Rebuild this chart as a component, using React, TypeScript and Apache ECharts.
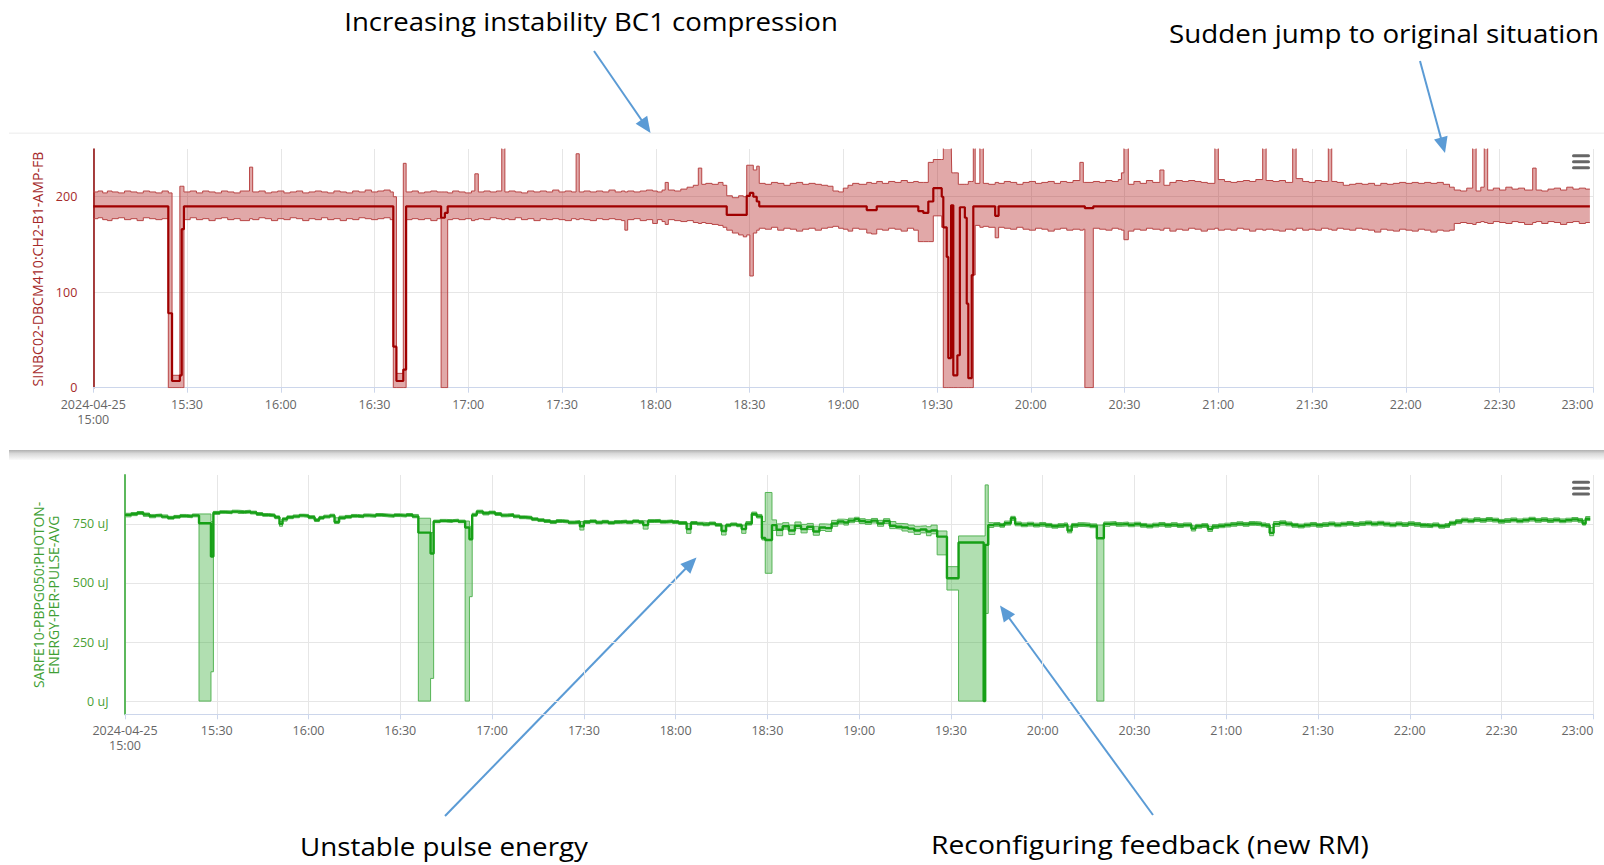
import React, { useEffect, useRef } from 'react';
import * as echarts from 'echarts';

// ---------------- DATA (minutes after 2024-04-25 15:00) ----------------
const startDate = '2024-04-25';
const startHour = 15;

// Top chart: SINBC02-DBCM410:CH2-B1-AMP-FB (min / avg / max per step)
const redTime = [
  0, 1.5, 3, 4.5, 6, 8, 10, 12, 14, 16,
  18, 20, 22, 24, 25.2, 27.7, 28.3, 29, 31, 33,
  35, 37, 39, 41, 43, 45, 47, 50, 51, 53,
  55, 57, 59, 61, 63, 65, 67, 69, 71, 73,
  75, 77, 79, 81, 83, 85, 87, 89, 91, 93,
  95, 96, 97, 99.2, 100.1, 102, 104, 106, 108, 110,
  111.3, 112.5, 113.4, 115, 117, 119, 121, 122.1, 123.2, 125,
  127, 129, 130.7, 131.7, 133, 135, 137, 139, 141, 143,
  145, 147, 149, 151, 153, 154.5, 155.5, 157, 159, 161,
  163, 165, 167, 169, 170.1, 171, 173, 175, 177, 179,
  180.5, 182, 183, 184, 186, 188, 190, 192, 193.6, 194.7,
  196, 198, 200, 201.5, 202.7, 204.5, 206.5, 208, 209.1, 210.1,
  211.2, 212.3, 213.1, 215, 217, 219, 221, 223, 225, 227,
  229, 231, 233, 235, 236.7, 238.5, 240, 241.5, 243, 245,
  247.5, 249, 250.7, 252.5, 254.5, 256.5, 258.5, 260.5, 262.5, 264,
  265.6, 267.2, 268.8, 271.5, 272, 273.1, 273.6, 274.5, 274.7, 275.2,
  276.5, 276.8, 277.3, 278.9, 279.5, 280, 281.1, 281.6, 282.2, 283.7,
  284.8, 286.5, 288.6, 289.7, 291.5, 293.5, 295.5, 297.5, 299.5, 301.5,
  303.5, 305.5, 307.5, 309.5, 311.5, 313.5, 315.7, 316.8, 317.3, 320,
  322, 324, 326, 328, 329, 329.8, 331.2, 333, 335, 337,
  339, 341.3, 342.6, 344.5, 346.5, 348.5, 350.5, 352.5, 354.5, 356.5,
  358.9, 360, 362, 364, 366, 368, 370, 372, 374.2, 375.3,
  377.5, 379.5, 381.5, 383.8, 384.9, 387, 389, 391, 393, 395.2,
  396.3, 398, 400, 402, 404, 406, 408, 410, 412, 414,
  416, 418, 420, 422, 424, 426, 428, 430, 432, 434,
  435.5, 437.5, 439.5, 441.4, 442.5, 444, 445.1, 446.2, 448, 450,
  452, 454, 456, 458, 460.6, 461.7, 463.5, 465.5, 467.5, 469.5,
  471.5, 473.5, 475.5, 477.5, 478.9,
];
const redLow = [
  177, 178, 176, 175, 177, 178, 176, 177, 175, 178,
  177, 176, 177, 0, 0, 0, 0, 176, 178, 176,
  177, 175, 177, 178, 176, 177, 175, 177, 176, 178,
  177, 175, 177, 176, 178, 177, 175, 177, 176, 178,
  176, 177, 175, 177, 176, 178, 177, 176, 177, 178,
  176, 0, 0, 0, 176, 177, 176, 177, 175, 177,
  0, 0, 176, 177, 176, 177, 175, 176, 177, 176,
  178, 177, 176, 177, 176, 178, 176, 177, 175, 177,
  176, 177, 176, 175, 177, 176, 177, 176, 175, 177,
  176, 177, 176, 175, 165, 176, 177, 175, 176, 172,
  176, 174, 171, 176, 175, 174, 175, 173, 172, 173,
  172, 171, 170, 168, 165, 162, 160, 158, 160, 117,
  162, 165, 167, 166, 168, 165, 167, 166, 164, 166,
  167, 165, 167, 168, 169, 167, 166, 164, 167, 166,
  162, 161, 166, 165, 167, 166, 164, 167, 165, 153,
  153, 153, 180, 168, 0, 0, 0, 0, 0, 0,
  0, 0, 0, 0, 0, 0, 0, 118, 170, 168,
  169, 168, 157, 168, 167, 166, 168, 166, 165, 167,
  166, 164, 166, 167, 165, 166, 165, 166, 0, 167,
  166, 165, 167, 166, 165, 155, 164, 166, 165, 167,
  166, 165, 167, 164, 166, 165, 167, 166, 164, 166,
  167, 165, 166, 165, 167, 166, 164, 166, 165, 166,
  165, 164, 166, 165, 167, 165, 166, 165, 167, 166,
  165, 167, 166, 165, 167, 166, 165, 163, 166, 165,
  164, 166, 165, 164, 166, 165, 163, 165, 164, 165,
  172, 173, 172, 171, 173, 174, 173, 172, 174, 173,
  172, 174, 173, 171, 173, 174, 172, 174, 173, 171,
  173, 174, 172, 173, 173,
];
const redMean = [
  190, 190, 190, 190, 190, 190, 190, 190, 190, 190,
  190, 190, 190, 78, 7, 13, 166, 190, 190, 190,
  190, 190, 190, 190, 190, 190, 190, 190, 190, 190,
  190, 190, 190, 190, 190, 190, 190, 190, 190, 190,
  190, 190, 190, 190, 190, 190, 190, 190, 190, 190,
  190, 43, 7, 19, 190, 190, 190, 190, 190, 190,
  178, 183, 190, 190, 190, 190, 190, 190, 190, 190,
  190, 190, 190, 190, 190, 190, 190, 190, 190, 190,
  190, 190, 190, 190, 190, 190, 190, 190, 190, 190,
  190, 190, 190, 190, 190, 190, 190, 190, 190, 190,
  190, 190, 190, 190, 190, 190, 190, 190, 190, 190,
  190, 190, 190, 190, 181, 181, 181, 181, 201, 204,
  200, 195, 190, 190, 190, 190, 190, 190, 190, 190,
  190, 190, 190, 190, 190, 190, 190, 190, 190, 190,
  186, 186, 190, 190, 190, 190, 190, 190, 190, 185,
  183, 195, 209, 200, 168, 137, 31, 191, 191, 13,
  34, 34, 189, 178, 88, 10, 118, 190, 190, 190,
  190, 190, 180, 190, 190, 190, 190, 190, 190, 190,
  190, 190, 190, 190, 190, 190, 190, 190, 188, 190,
  190, 190, 190, 190, 190, 190, 190, 190, 190, 190,
  190, 190, 190, 190, 190, 190, 190, 190, 190, 190,
  190, 190, 190, 190, 190, 190, 190, 190, 190, 190,
  190, 190, 190, 190, 190, 190, 190, 190, 190, 190,
  190, 190, 190, 190, 190, 190, 190, 190, 190, 190,
  190, 190, 190, 190, 190, 190, 190, 190, 190, 190,
  190, 190, 190, 190, 190, 190, 190, 190, 190, 190,
  190, 190, 190, 190, 190, 190, 190, 190, 190, 190,
  190, 190, 190, 190, 190,
];
const redHigh = [
  205, 206, 204, 206, 205, 204, 206, 205, 204, 206,
  205, 204, 206, 204, 13, 211, 211, 205, 206, 204,
  206, 205, 204, 206, 205, 204, 206, 231, 205, 206,
  204, 205, 206, 204, 205, 206, 204, 205, 206, 205,
  204, 206, 205, 204, 206, 205, 207, 205, 206, 207,
  205, 200, 15, 235, 205, 206, 204, 205, 206, 205,
  205, 205, 204, 206, 205, 204, 206, 224, 205, 206,
  205, 206, 260, 205, 206, 205, 204, 206, 205, 206,
  205, 207, 205, 206, 205, 245, 205, 206, 205, 206,
  205, 207, 205, 206, 205, 206, 205, 206, 207, 206,
  205, 207, 215, 207, 206, 208, 210, 212, 230, 213,
  214, 213, 215, 212, 201, 199, 201, 200, 233, 233,
  228, 232, 214, 213, 215, 214, 212, 214, 215, 213,
  214, 213, 212, 211, 206, 205, 209, 212, 214, 213,
  215, 214, 216, 214, 216, 215, 217, 215, 216, 215,
  215, 236, 239, 239, 260, 260, 260, 260, 225, 225,
  225, 213, 213, 213, 213, 216, 216, 260, 214, 260,
  214, 213, 215, 214, 216, 215, 213, 215, 216, 214,
  215, 216, 214, 216, 215, 217, 236, 215, 215, 216,
  215, 217, 216, 218, 225, 260, 213, 216, 214, 217,
  215, 228, 212, 215, 217, 216, 217, 216, 215, 214,
  260, 218, 216, 215, 216, 217, 216, 218, 260, 217,
  216, 217, 215, 260, 219, 216, 215, 217, 216, 260,
  216, 215, 212, 213, 214, 213, 214, 212, 214, 213,
  214, 215, 214, 215, 214, 215, 214, 215, 213, 210,
  207, 206, 209, 260, 206, 210, 260, 207, 209, 207,
  210, 208, 209, 207, 230, 207, 206, 208, 209, 207,
  210, 208, 209, 208, 208,
];

// Bottom chart: SARFE10-PBPG050:PHOTON-ENERGY-PER-PULSE-AVG in uJ
const greenTime = [
  0, 2, 4, 6, 8, 10, 12, 14, 16, 18,
  20, 22, 24.2, 28.1, 28.9, 31, 33, 35, 37, 39,
  41, 43, 45, 47, 49, 50.5, 51.5, 53, 55, 57,
  58.5, 60, 62, 63.5, 65, 67, 68.5, 70, 72, 74,
  76, 78, 80, 82, 84, 86, 88, 90, 92, 94,
  95.9, 99.9, 100.9, 103, 105, 107, 109, 111.2, 112.6, 113.5,
  115, 117, 119, 121, 123, 125, 127, 129, 131, 133,
  135, 137, 139, 141, 143, 145, 147, 148.7, 150, 152,
  154, 156, 158, 160, 162, 164, 166, 168, 169.4, 171,
  173, 175, 177, 179, 181, 183.6, 185, 187, 189, 191,
  193, 195, 196.5, 198, 200, 201.6, 203, 204.9, 206.5, 208.2,
  209.3, 211.5, 213, 215, 217, 219, 221, 223, 225, 227,
  229, 231, 233, 235, 236.5, 238.5, 240, 242, 244, 246,
  248, 250, 252, 254, 256, 258, 260, 262, 263.5, 265.5,
  268.7, 272.5, 280.7, 281.2, 282.2, 284, 286, 287.5, 289.6, 291, 293,
  295, 297, 299, 301, 303, 305, 307, 308.1, 309.5, 311.5,
  313.5, 315.5, 317.7, 320, 322, 324, 326, 328, 330, 332,
  334, 336, 338, 340, 342, 344, 346, 348.6, 350, 352,
  354, 355.5, 357.5, 359.5, 361.5, 363.5, 365.5, 367.5, 369.5, 371.5,
  373, 374.2, 375.5, 377.5, 379.5, 381.5, 383.5, 385.5, 387.5, 389.5,
  391.5, 393.5, 395.5, 397.5, 399.5, 401.5, 403.5, 405.5, 407.5, 409.5,
  411.5, 413.5, 415.5, 417.5, 419.5, 421.5, 423.5, 425.5, 427.5, 429.5,
  431.5, 433, 435, 437, 439, 441, 443, 445, 447, 449,
  451, 453, 455, 457, 459, 461, 463, 465, 467, 469,
  471, 473, 475, 476.5, 477.5, 479,
];
const greenLow = [
  780, 785, 790, 782, 776, 780, 775, 770, 774, 778,
  776, 780, 0, 124, 790, 795, 793, 797, 794, 796,
  792, 786, 782, 780, 772, 740, 762, 772, 776, 780,
  778, 772, 760, 770, 775, 779, 752, 770, 774, 778,
  776, 780, 778, 782, 780, 778, 781, 779, 782, 776,
  0, 96, 755, 758, 756, 759, 755, 0, 442, 782,
  795, 788, 792, 786, 780, 782, 776, 772, 770, 764,
  760, 756, 752, 756, 754, 750, 752, 724, 752, 755,
  750, 753, 749, 752, 754, 751, 755, 752, 728, 756,
  757, 753, 755, 752, 748, 710, 748, 745, 742, 746,
  740, 703, 738, 742, 738, 710, 745, 786, 775, 682,
  541, 722, 700, 728, 705, 730, 712, 726, 702, 722,
  718, 740, 750, 745, 755, 760, 752, 748, 754, 740,
  752, 730, 728, 720, 715, 705, 712, 700, 708, 619,
  470, 0, 0, 371, 735, 740, 736, 745, 765, 742, 738,
  741, 737, 740, 736, 732, 735, 738, 712, 736, 739,
  737, 734, 0, 740, 744, 740, 742, 738, 741, 736,
  733, 737, 740, 736, 739, 735, 738, 720, 732, 735,
  718, 731, 734, 737, 740, 743, 740, 744, 742, 738,
  735, 700, 740, 745, 742, 736, 733, 737, 740, 736,
  739, 742, 738, 741, 744, 740, 743, 746, 742, 745,
  741, 738, 742, 739, 743, 740, 736, 734, 738, 732,
  735, 745, 752, 758, 755, 760, 757, 761, 758, 753,
  756, 759, 755, 758, 762, 757, 760, 756, 759, 755,
  758, 761, 757, 745, 764, 765,
];
const greenMean = [
  788, 792, 797, 790, 783, 786, 781, 776, 780, 784,
  782, 786, 753, 612, 797, 800, 799, 802, 800, 802,
  798, 792, 788, 786, 778, 750, 770, 778, 782, 786,
  784, 778, 766, 776, 781, 785, 758, 776, 780, 784,
  782, 786, 784, 788, 786, 784, 787, 785, 788, 782,
  713, 625, 760, 763, 762, 764, 760, 735, 685, 788,
  802, 795, 798, 792, 786, 788, 782, 778, 776, 770,
  766, 762, 758, 762, 760, 756, 758, 740, 758, 761,
  756, 759, 755, 758, 760, 757, 761, 758, 745, 762,
  763, 759, 761, 758, 754, 728, 754, 751, 748, 752,
  746, 720, 744, 748, 744, 728, 752, 792, 782, 690,
  682, 745, 725, 740, 722, 742, 728, 738, 718, 735,
  732, 752, 760, 756, 764, 770, 762, 758, 764, 752,
  762, 742, 738, 735, 730, 722, 726, 718, 722, 696,
  520, 671, 0, 661, 745, 748, 744, 753, 774, 750, 746,
  749, 745, 748, 744, 740, 743, 746, 722, 744, 747,
  745, 742, 689, 750, 752, 748, 750, 746, 749, 744,
  741, 745, 748, 744, 747, 743, 746, 730, 740, 743,
  728, 739, 742, 745, 748, 751, 748, 752, 750, 746,
  743, 712, 750, 755, 750, 744, 741, 745, 748, 744,
  747, 750, 746, 749, 752, 748, 751, 754, 750, 753,
  749, 746, 750, 747, 751, 748, 744, 742, 746, 740,
  743, 753, 760, 766, 763, 768, 765, 769, 766, 761,
  764, 767, 763, 766, 770, 765, 768, 764, 767, 763,
  766, 769, 765, 752, 772, 773,
];
const greenHigh = [
  795, 798, 802, 796, 790, 792, 788, 782, 786, 790,
  788, 792, 792, 760, 803, 806, 805, 808, 806, 808,
  804, 798, 794, 792, 784, 760, 776, 784, 788, 791,
  790, 785, 772, 782, 787, 791, 776, 783, 786, 790,
  788, 792, 790, 794, 792, 790, 793, 791, 794, 790,
  774, 713, 766, 769, 768, 770, 766, 762, 740, 795,
  808, 801, 804, 798, 792, 794, 788, 784, 782, 776,
  772, 768, 764, 768, 766, 762, 764, 760, 764, 767,
  762, 765, 761, 764, 766, 763, 767, 764, 762, 768,
  769, 765, 767, 764, 760, 752, 760, 757, 755, 758,
  752, 742, 750, 754, 750, 745, 760, 800, 790, 760,
  883, 767, 750, 755, 745, 758, 748, 752, 740, 750,
  748, 765, 770, 768, 774, 778, 772, 768, 773, 765,
  772, 760, 752, 750, 745, 740, 742, 738, 745, 720,
  569, 699, 699, 915, 755, 756, 752, 762, 782, 758, 754,
  757, 753, 756, 752, 748, 751, 754, 740, 752, 755,
  753, 750, 745, 758, 760, 756, 758, 754, 757, 752,
  749, 753, 756, 752, 755, 751, 754, 742, 748, 751,
  740, 747, 750, 753, 756, 759, 756, 760, 758, 754,
  751, 735, 760, 763, 758, 752, 749, 753, 756, 752,
  755, 758, 754, 757, 760, 756, 759, 762, 758, 761,
  757, 754, 758, 755, 759, 756, 752, 750, 754, 748,
  751, 761, 768, 774, 771, 776, 773, 777, 774, 769,
  772, 775, 771, 774, 778, 773, 776, 772, 775, 771,
  774, 777, 773, 765, 781, 782,
];

// Axis ticks / labels
const xMinutesMax = 480;
const xTickStep = 30;
const redYTicks = [0, 100, 200];
const greenYTicks = [0, 250, 500, 750];
const greenUnit = 'uJ';
const redAxisTitle = 'SINBC02-DBCM410:CH2-B1-AMP-FB';
const greenAxisTitle = ['SARFE10-PBPG050:PHOTON-', 'ENERGY-PER-PULSE-AVG'];
const annotationTexts = [
  'Increasing instability BC1 compression',
  'Sudden jump to original situation',
  'Unstable pulse energy',
  'Reconfiguring feedback (new RM)',
];

// ---------------- LAYOUT / STYLE ----------------
const W = 1604;
const H = 865;
const AXIS_FONT = '"Open Sans", "Noto Sans", sans-serif';
const NOTE_FONT_FAMILY = '"Open Sans", "Noto Sans", sans-serif';

function measure(text: string, font: string): number {
  const ctx = document.createElement('canvas').getContext('2d');
  if (!ctx) return 0;
  ctx.font = font;
  return ctx.measureText(text).width;
}

function fitText(text: string, size: number, target: number): number {
  const w = measure(text, `${size}px "Open Sans"`);
  return w > 0 ? target / w : 1;
}

function timeLabel(v: number): string {
  const m = Math.round(v);
  const h = startHour + Math.floor(m / 60);
  const mm = m % 60;
  const s = `${h}:${String(mm).padStart(2, '0')}`;
  return m === 0 ? `${startDate}\n${s}` : s;
}

// Filled min..max band drawn as one stepped polygon through the axis scales.
function bandFill(idx: number, time: number[], low: number[], high: number[], fill: string) {
  return {
    type: 'custom',
    xAxisIndex: idx,
    yAxisIndex: idx,
    silent: true,
    z: 1,
    data: [[time[0], low[0]]],
    renderItem: (params: any, api: any) => {
      if (params.dataIndex !== 0) return null;
      const cs = params.coordSys;
      const top = cs.y;
      const bottom = cs.y + cs.height;
      const cy = (y: number) => Math.min(bottom, Math.max(top, y));
      const upper: number[][] = [];
      const lower: number[][] = [];
      for (let i = 0; i < time.length; i++) {
        const t0 = time[i];
        const t1 = i + 1 < time.length ? time[i + 1] : time[i];
        const a = api.coord([t0, high[i]]);
        const b = api.coord([t1, high[i]]);
        upper.push([a[0], cy(a[1])], [b[0], cy(b[1])]);
        const c = api.coord([t0, low[i]]);
        const d = api.coord([t1, low[i]]);
        lower.push([c[0], cy(c[1])], [d[0], cy(d[1])]);
      }
      const points = upper.concat(lower.reverse());
      return { type: 'polygon', shape: { points }, style: { fill }, silent: true };
    },
  };
}

function bandSeries(
  key: string,
  idx: number,
  time: number[],
  low: number[],
  mean: number[],
  high: number[],
  edge: string,
  fill: string,
  meanColor: string,
  meanWidth: number
) {
  const lowData = time.map((t, i) => [t, low[i]]);
  const highData = time.map((t, i) => [t, high[i]]);
  const meanData = time.map((t, i) => [t, mean[i]]);
  const common = {
    type: 'line',
    xAxisIndex: idx,
    yAxisIndex: idx,
    step: 'end',
    symbol: 'none',
    silent: true,
    animation: false,
  };
  return [
    bandFill(idx, time, low, high, fill),
    { ...common, name: key + ' min', data: lowData, lineStyle: { color: edge, width: 1 }, z: 2 },
    { ...common, name: key + ' max', data: highData, lineStyle: { color: edge, width: 1 }, z: 2 },
    { ...common, name: key + ' avg', data: meanData, lineStyle: { color: meanColor, width: meanWidth }, z: 3 },
  ];
}

function arrow(x1: number, y1: number, x2: number, y2: number, color: string) {
  const dx = x2 - x1;
  const dy = y2 - y1;
  const len = Math.sqrt(dx * dx + dy * dy);
  const ux = dx / len;
  const uy = dy / len;
  const headL = 16;
  const headW = 7;
  const bx = x2 - ux * headL;
  const by = y2 - uy * headL;
  const px = -uy;
  const py = ux;
  return [
    { type: 'line', shape: { x1, y1, x2: bx + ux * 2, y2: by + uy * 2 }, style: { stroke: color, lineWidth: 2 } },
    {
      type: 'polygon',
      shape: {
        points: [
          [x2, y2],
          [bx + px * headW, by + py * headW],
          [bx - px * headW, by - py * headW],
        ],
      },
      style: { fill: color },
    },
  ];
}

function hamburger(x: number, ys: number[]) {
  return ys.map((y) => ({
    type: 'rect',
    shape: { x, y: y - 1.5, width: 18, height: 3, r: 1.5 },
    style: { fill: '#666666' },
  }));
}

function xAxis(gridIndex: number, margin: number) {
  return {
    gridIndex,
    type: 'value',
    min: 0,
    max: xMinutesMax,
    interval: xTickStep,
    axisLine: { onZero: false, lineStyle: { color: '#ccd6eb', width: 1 } },
    axisTick: { show: true, length: 5, lineStyle: { color: '#ccd6eb' } },
    axisLabel: {
      formatter: timeLabel,
      color: '#666666',
      fontSize: 12.5,
      fontFamily: AXIS_FONT,
      lineHeight: 15,
      margin,
      alignMaxLabel: 'right',
      showMinLabel: true,
      showMaxLabel: true,
    },
    splitLine: { show: true, lineStyle: { color: '#e6e6e6', width: 1 } },
  };
}

export default function App() {
  const ref = useRef<HTMLDivElement>(null);

  useEffect(() => {
    if (!ref.current) return;
    const chart = echarts.init(ref.current, null, { renderer: 'svg' });

    const noteSize = 26;
    const notes = [
      { text: annotationTexts[0], cx: 591, cy: 20.5, w: 494 },
      { text: annotationTexts[1], cx: 1384, cy: 32.5, w: 430 },
      { text: annotationTexts[2], cx: 444, cy: 846, w: 288 },
      { text: annotationTexts[3], cx: 1150, cy: 844, w: 438 },
    ];
    const noteEls = notes.map((n) => ({
      type: 'text',
      x: n.cx,
      y: n.cy,
      scaleX: fitText(n.text, noteSize, n.w),
      style: {
        text: n.text,
        fill: '#000000',
        fontSize: noteSize,
        fontFamily: NOTE_FONT_FAMILY,
        align: 'center',
        verticalAlign: 'middle',
      },
      z: 10,
    }));

    const arrowColor = '#5b9bd5';
    const arrows = [
      ...arrow(594, 51, 650.5, 133, arrowColor),
      ...arrow(1420, 61, 1445, 153, arrowColor),
      ...arrow(445, 816, 696.5, 557.5, arrowColor),
      ...arrow(1153, 815, 1000, 605.5, arrowColor),
    ];

    const titleSize = 14;
    const titles = [
      {
        type: 'text',
        x: 37.5,
        y: 269,
        rotation: Math.PI / 2,
        scaleX: fitText(redAxisTitle, titleSize, 235),
        style: {
          text: redAxisTitle,
          fill: '#a52a2a',
          fontSize: titleSize,
          fontFamily: AXIS_FONT,
          align: 'center',
          verticalAlign: 'middle',
        },
      },
      {
        type: 'text',
        x: 38.5,
        y: 595,
        rotation: Math.PI / 2,
        scaleX: fitText(greenAxisTitle[0], titleSize, 186.5),
        style: {
          text: greenAxisTitle[0],
          fill: '#3f9f35',
          fontSize: titleSize,
          fontFamily: AXIS_FONT,
          align: 'center',
          verticalAlign: 'middle',
        },
      },
      {
        type: 'text',
        x: 53.5,
        y: 595,
        rotation: Math.PI / 2,
        scaleX: fitText(greenAxisTitle[1], titleSize, 159),
        style: {
          text: greenAxisTitle[1],
          fill: '#3f9f35',
          fontSize: titleSize,
          fontFamily: AXIS_FONT,
          align: 'center',
          verticalAlign: 'middle',
        },
      },
    ];

    const panels = [
      { type: 'rect', shape: { x: 9, y: 132.5, width: W - 9, height: 1.5 }, style: { fill: '#f2f2f2' }, z: -1 },
      {
        type: 'rect',
        shape: { x: 9, y: 450, width: W - 9, height: 10 },
        style: {
          fill: new echarts.graphic.LinearGradient(0, 0, 0, 1, [
            { offset: 0, color: '#b0b0b0' },
            { offset: 0.35, color: '#d8d8d8' },
            { offset: 1, color: '#fbfbfb' },
          ]),
        },
        z: -1,
      },
    ];

    const option = {
      animation: false,
      backgroundColor: '#ffffff',
      textStyle: { fontFamily: AXIS_FONT },
      grid: [
        { left: 93.3, top: 149, width: 1500, height: 238.7, outerBoundsMode: 'none', containLabel: false },
        { left: 125, top: 475, width: 1468.3, height: 239.3, outerBoundsMode: 'none', containLabel: false },
      ],
      xAxis: [xAxis(0, 9), xAxis(1, 8.2)],
      yAxis: [
        {
          gridIndex: 0,
          type: 'value',
          min: 0,
          max: 250,
          axisLine: { show: true, lineStyle: { color: '#8b0000', width: 1.5 } },
          axisTick: { show: false, customValues: redYTicks },
          axisLabel: {
            customValues: redYTicks,
            color: '#a52a2a',
            fontSize: 12.5,
            fontFamily: AXIS_FONT,
            margin: 16,
          },
          splitLine: { show: true, lineStyle: { color: '#e6e6e6', width: 1 } },
        },
        {
          gridIndex: 1,
          type: 'value',
          min: -56,
          max: 957,
          axisLine: { show: true, lineStyle: { color: '#5cb85c', width: 2 } },
          axisTick: { show: false, customValues: greenYTicks },
          axisLabel: {
            customValues: greenYTicks,
            formatter: (v: number) => `${v} ${greenUnit}`,
            color: '#4a9f35',
            fontSize: 12.5,
            fontFamily: AXIS_FONT,
            margin: 16.5,
          },
          splitLine: { show: true, lineStyle: { color: '#e6e6e6', width: 1 } },
        },
      ],
      series: [
        ...bandSeries('red', 0, redTime, redLow, redMean, redHigh, '#b84444', 'rgba(175,25,25,0.38)', '#a00000', 2.2),
        ...bandSeries('green', 1, greenTime, greenLow, greenMean, greenHigh, '#55b455', 'rgba(40,165,40,0.36)', '#17a017', 2.4),
      ],
      graphic: [
        ...panels,
        ...hamburger(1572, [155.7, 161.7, 167.7]),
        ...hamburger(1572, [482.3, 488.3, 494]),
        ...titles,
        ...arrows,
        ...noteEls,
      ],
    };

    chart.setOption(option as any);
    return () => {
      chart.dispose();
    };
  }, []);

  return (
    <div
      ref={ref}
      style={{ position: 'fixed', left: 0, top: 0, width: W, height: H, background: '#ffffff' }}
    />
  );
}
